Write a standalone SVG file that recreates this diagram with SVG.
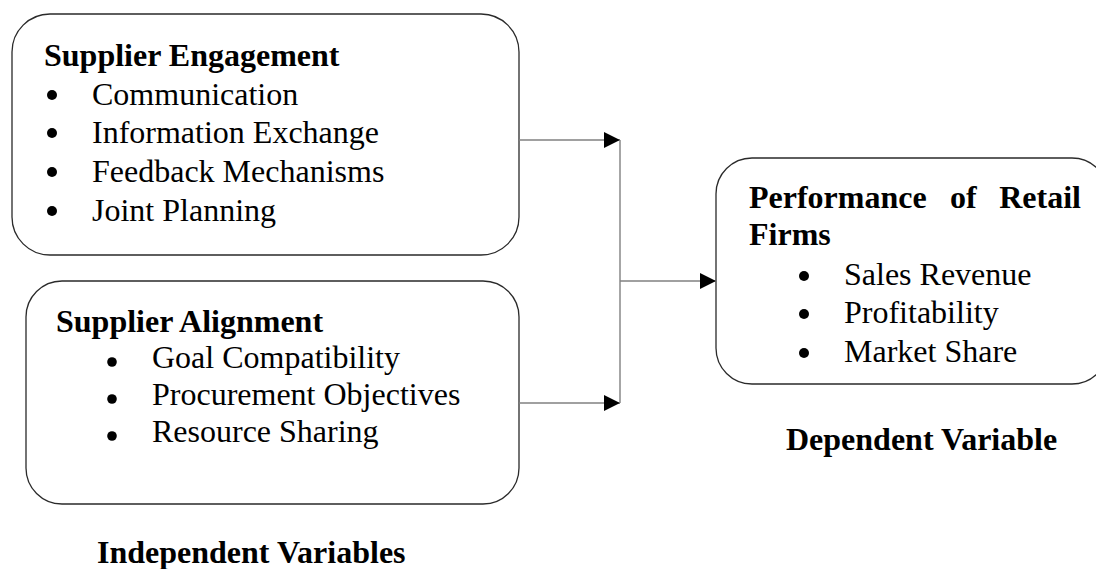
<svg xmlns="http://www.w3.org/2000/svg" width="1096" height="569" viewBox="0 0 1096 569">
  <style>
    .box { fill: #ffffff; stroke: #2a2a2a; stroke-width: 1.3; }
    .head { font-family: "Liberation Serif", "Times New Roman", serif; font-size: 32px; font-weight: bold; fill: #000; }
    .item { font-family: "Liberation Serif", "Times New Roman", serif; font-size: 32px; fill: #000; }
    .dot { fill: #000; }
    .link { fill: none; stroke: #808080; stroke-width: 1.4; }
  </style>
  <defs>
    <marker id="arrow" markerWidth="16" markerHeight="16" refX="16" refY="8" orient="auto" markerUnits="userSpaceOnUse">
      <path d="M0,0 L16,8 L0,16 Z" fill="#000"/>
    </marker>
  </defs>

  <rect width="1096" height="569" fill="#ffffff"/>

  <!-- Independent variable: supplier engagement -->
  <g id="supplier-engagement">
    <rect class="box" x="12" y="14" width="507" height="241" rx="38" ry="38"/>
    <text class="head" x="44" y="66">Supplier Engagement</text>
    <circle class="dot" cx="52" cy="95" r="5"/>
    <text class="item" x="92" y="105">Communication</text>
    <circle class="dot" cx="52" cy="133" r="5"/>
    <text class="item" x="92" y="143">Information Exchange</text>
    <circle class="dot" cx="52" cy="172" r="5"/>
    <text class="item" x="92" y="182">Feedback Mechanisms</text>
    <circle class="dot" cx="52" cy="211" r="5"/>
    <text class="item" x="92" y="221">Joint Planning</text>
  </g>

  <!-- Independent variable: supplier alignment -->
  <g id="supplier-alignment">
    <rect class="box" x="26" y="281" width="493" height="223" rx="36" ry="36"/>
    <text class="head" x="56" y="332">Supplier Alignment</text>
    <circle class="dot" cx="112" cy="362" r="4.8"/>
    <text class="item" x="152" y="368">Goal Compatibility</text>
    <circle class="dot" cx="112" cy="399" r="4.8"/>
    <text class="item" x="152" y="405">Procurement Objectives</text>
    <circle class="dot" cx="112" cy="436" r="4.8"/>
    <text class="item" x="152" y="442">Resource Sharing</text>
  </g>

  <!-- Dependent variable: retail firm performance (justified first line) -->
  <g id="retail-performance">
    <rect class="box" x="716" y="158" width="392" height="226" rx="36" ry="36"/>
    <text class="head" x="749" y="208">Performance</text>
    <text class="head" x="950" y="208">of</text>
    <text class="head" x="1081" y="208" text-anchor="end">Retail</text>
    <text class="head" x="749" y="245">Firms</text>
    <circle class="dot" cx="804" cy="276" r="5"/>
    <text class="item" x="844" y="285">Sales Revenue</text>
    <circle class="dot" cx="804" cy="314" r="5"/>
    <text class="item" x="844" y="323">Profitability</text>
    <circle class="dot" cx="804" cy="353" r="5"/>
    <text class="item" x="844" y="362">Market Share</text>
  </g>

  <!-- Group captions -->
  <g id="caption-independent">
    <text class="head" x="97" y="563">Independent Variables</text>
  </g>
  <g id="caption-dependent">
    <text class="head" x="786" y="450">Dependent Variable</text>
  </g>

  <!-- Connectors -->
  <g id="connectors">
    <line class="link" x1="519" y1="140" x2="620" y2="140" marker-end="url(#arrow)"/>
    <line class="link" x1="519" y1="403" x2="620" y2="403" marker-end="url(#arrow)"/>
    <line class="link" x1="620" y1="140" x2="620" y2="403"/>
    <line class="link" x1="620" y1="281" x2="716" y2="281" marker-end="url(#arrow)"/>
  </g>
</svg>
